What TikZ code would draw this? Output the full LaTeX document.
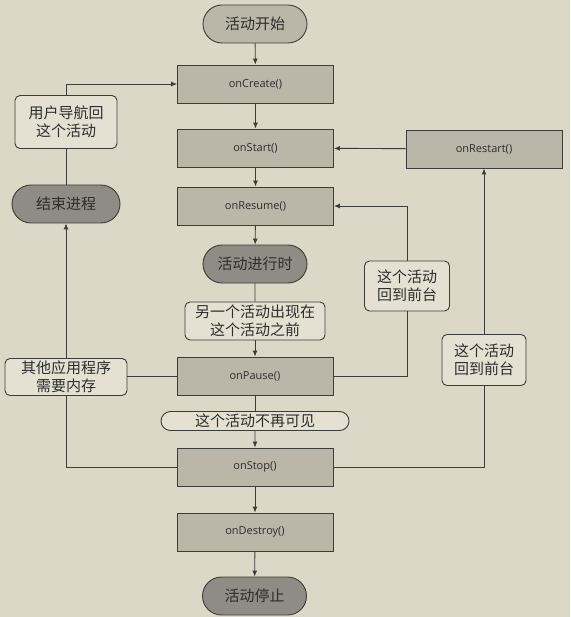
\documentclass[tikz,border=0pt]{standalone}
\usepackage{fontspec}
\setmainfont{Open Sans}
\newfontfamily\cjk{Noto Sans CJK SC}
\usetikzlibrary{arrows.meta,shapes.misc}
\definecolor{paper}{RGB}{220,216,199}
\definecolor{boxfill}{RGB}{186,183,169}
\definecolor{darkfill}{RGB}{142,140,132}
\definecolor{lblfill}{RGB}{228,225,211}
\definecolor{ink}{RGB}{60,60,56}
\definecolor{txt}{RGB}{45,45,42}
\tikzset{
  x=1pt,y=1pt,
  base/.style={draw=ink,line width=0.9pt,text=txt,inner sep=1pt,align=center},
  method/.style={base,rectangle,fill=boxfill,minimum width=156pt,minimum height=38pt,font=\fontsize{11}{13}\selectfont},
  pill/.style={base,rounded rectangle,fill=#1,minimum width=106pt,minimum height=38pt,font=\cjk\fontsize{15}{18}\selectfont},
  lbl/.style={base,rounded corners=5pt,fill=lblfill,font=\cjk\fontsize{15}{18}\selectfont},
  conn/.style={draw=ink,line width=0.9pt},
  arr/.style={conn,-{Latex[length=6pt,width=5pt]}}
}
\begin{document}
\begin{tikzpicture}
\useasboundingbox (0,0) rectangle (570,-617);
\fill[paper] (0,0) rectangle (570,-617);
% nodes
\node[pill=boxfill] (start) at (255,-24) {活动开始};
\node[method] (create) at (255.5,-84) {onCreate()};
\node[method] (startm) at (255.5,-148) {onStart()};
\node[method] (restart) at (484,-149) {onRestart()};
\node[method] (resume) at (255.5,-206) {onResume()};
\node[pill=darkfill] (running) at (255,-264) {活动进行时};
\node[lbl,minimum width=102pt,minimum height=53pt] (nav) at (66,-122) {用户导航回\\这个活动};
\node[pill=darkfill,minimum width=110pt] (kill) at (66,-204) {结束进程};
\node[lbl,minimum width=140pt,minimum height=38pt] (another) at (255,-321) {另一个活动出现在\\这个活动之前};
\node[lbl,minimum width=85pt,minimum height=50pt] (fg1) at (407,-286) {这个活动\\回到前台};
\node[method] (pause) at (255,-376) {onPause()};
\node[lbl,minimum width=122pt,minimum height=37pt] (other) at (66,-377) {其他应用程序\\需要内存};
\node[lbl,minimum width=84pt,minimum height=51pt] (fg2) at (484,-360) {这个活动\\回到前台};
\node[base,rounded rectangle,fill=lblfill,minimum width=188pt,minimum height=19pt,inner sep=0pt,font=\cjk\fontsize{15}{18}\selectfont] (invis) at (255,-421) {这个活动不再可见};
\node[method] (stop) at (255,-467) {onStop()};
\node[method] (destroy) at (255,-532) {onDestroy()};
\node[pill=darkfill] (stopped) at (254.5,-596) {活动停止};
% connectors
\draw[arr] (start) -- (create);
\draw[arr] (create) -- (startm);
\draw[arr] (startm) -- (resume);
\draw[arr] (resume) -- (running);
\draw[conn] (running) -- (another);
\draw[arr] (another) -- (pause);
\draw[conn] (pause) -- (invis);
\draw[arr] (invis) -- (stop);
\draw[arr] (stop) -- (destroy);
\draw[arr] (destroy) -- (stopped);
\draw[arr] (restart) -- (startm);
\draw[conn] (pause.east) -| (fg1.south);
\draw[arr] (fg1.north) |- (resume.east);
\draw[conn] (stop.east) -| (fg2.south);
\draw[arr] (fg2.north) -- (fg2.north |- restart.south);
\draw[conn] (stop.west) -| (other.south);
\draw[conn] (pause.west) -- (pause.west -| other.east);
\draw[arr] (other.north) -- (other.north |- kill.south);
\draw[conn] (kill.north) -- (nav.south);
\draw[arr] (nav.north) |- (create.west);
\end{tikzpicture}
\end{document}
